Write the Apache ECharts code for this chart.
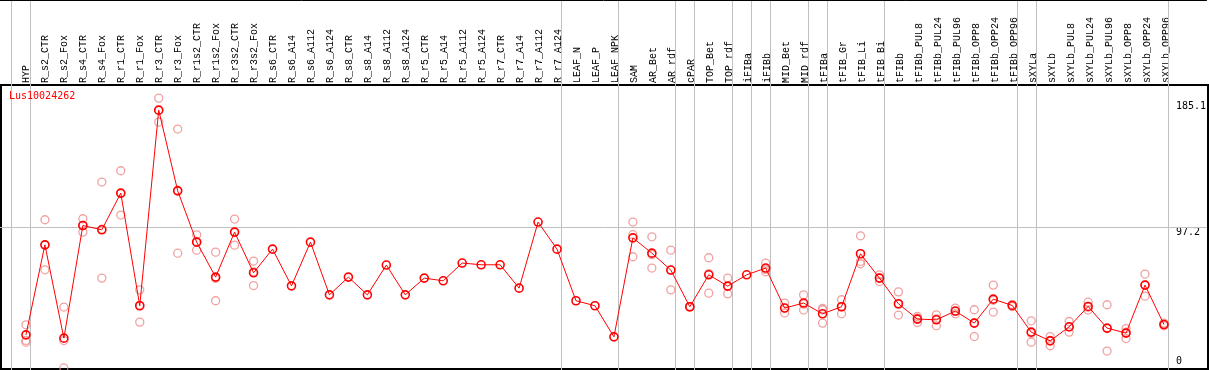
<!DOCTYPE html>
<html>
<head>
<meta charset="utf-8">
<script src="https://cdn.jsdelivr.net/npm/echarts@6/dist/echarts.min.js"></script>
<style>
html,body{margin:0;padding:0;background:#fff;}
#chart{width:1209px;height:370px;}
</style>
</head>
<body>
<div id="chart"></div>
<script>
const categories = ["HYP","R_s2_CTR","R_s2_Fox","R_s4_CTR","R_s4_Fox","R_r1_CTR","R_r1_Fox","R_r3_CTR","R_r3_Fox","R_r1s2_CTR","R_r1s2_Fox","R_r3s2_CTR","R_r3s2_Fox","R_s6_CTR","R_s6_A14","R_s6_A112","R_s6_A124","R_s8_CTR","R_s8_A14","R_s8_A112","R_s8_A124","R_r5_CTR","R_r5_A14","R_r5_A112","R_r5_A124","R_r7_CTR","R_r7_A14","R_r7_A112","R_r7_A124","LEAF_N","LEAF_P","LEAF_NPK","SAM","AR_Bet","AR_rdf","cPAR","TOP_Bet","TOP_rdf","iFIBa","iFIBb","MID_Bet","MID_rdf","tFIBa","tFIB_Gr","tFIB_Li","tFIB_Bi","tFIBb","tFIBb_PUL8","tFIBb_PUL24","tFIBb_PUL96","tFIBb_OPP8","tFIBb_OPP24","tFIBb_OPP96","sXYLa","sXYLb","sXYLb_PUL8","sXYLb_PUL24","sXYLb_PUL96","sXYLb_OPP8","sXYLb_OPP24","sXYLb_OPP96"];

const meanValues = [22.3,85.1,20.0,98.6,95.6,121.2,42.6,179.1,122.8,87.0,62.6,94.0,65.6,82.1,56.5,87.0,50.2,62.6,50.2,71.0,50.2,61.9,60.0,72.4,71.2,71.2,54.9,101.0,82.1,46.1,42.6,20.9,90.0,79.3,67.5,41.9,64.2,56.3,64.2,68.9,41.0,44.5,37.0,41.9,78.9,61.9,44.0,33.3,32.8,38.9,30.5,47.2,42.8,24.2,18.1,27.9,42.1,27.0,23.5,57.0,29.5];

const rep1 = [29.3,102.6,41.7,103.3,128.9,136.8,53.7,187.5,165.9,92.1,80.0,103.1,73.8,null,null,null,null,null,null,null,null,null,null,null,null,null,null,null,null,null,null,null,101.0,90.7,81.4,42.2,76.1,61.9,null,72.4,44.5,50.2,39.8,46.8,91.4,64.2,52.3,35.1,36.3,41.0,39.8,57.0,43.5,32.1,21.1,31.6,45.1,43.3,26.7,64.7,30.5];
const rep2 = [18.4,67.7,-0.8,94.0,61.9,105.9,31.2,170.8,79.3,81.4,46.1,84.9,56.7,null,null,null,null,null,null,null,null,null,null,null,null,null,null,null,null,null,null,null,76.8,68.9,53.7,41.6,51.4,50.9,null,66.3,37.5,39.6,30.5,37.0,73.5,59.5,36.1,30.9,28.6,37.0,21.1,38.2,42.0,17.2,14.7,24.2,39.6,11.0,19.7,49.3,28.6];
const rep3 = [17.2,85.0,18.3,98.5,96.0,120.9,42.9,179.0,123.2,87.5,61.7,94.0,66.3,null,null,null,null,null,null,null,null,null,null,null,null,null,null,null,null,null,null,null,92.2,78.3,67.4,41.9,65.0,56.0,null,68.0,41.0,43.7,40.7,41.9,71.9,62.0,43.6,33.9,33.5,38.7,30.6,46.4,42.8,23.3,18.5,27.9,41.6,26.7,24.1,57.0,29.5];

const yTickLabels = [0, 97.2, 185.1];
const refLineValue = 97.2;
const groupEnds = [-1, 0, 28, 31, 34, 35, 37, 38, 39, 41, 42, 45, 52, 53, 60];
const geneName = "Lus10024262";

// layout constants
const W = 1209, H = 370;
const COL_W = 19, COL0_X = 26;
const K = 1.433, ZERO_Y = 366.8;
const yMin = -(H - ZERO_Y) / K, yMax = ZERO_Y / K;
const xMin = -COL0_X / COL_W, xMax = (W - COL0_X) / COL_W;
const MONO = "DejaVu Sans Mono";
const LABEL_FONT = "Liberation Mono";

const meanData = meanValues.map((v, i) => [i, v]);
const repData = [];
[rep1, rep2, rep3].forEach(r => r.forEach((v, i) => { if (v !== null) repData.push([i, v]); }));

const vLines = groupEnds.map(g => ({ xAxis: g + 4.5 / COL_W }));

const chart = echarts.init(document.getElementById('chart'), null, { renderer: 'canvas' });
chart.setOption({
  animation: false,
  backgroundColor: '#fff',
  title: {
    text: geneName, left: 9, top: 91, padding: 0,
    textStyle: { color: '#ff0000', fontSize: 10, fontWeight: 'normal', fontFamily: MONO }
  },
  grid: [
    { left: 0, right: 0, top: 0, bottom: 0 },
    { left: COL0_X - COL_W / 2, width: COL_W * categories.length, top: 85, bottom: 1 },
    { left: 1, right: 1, top: 85, bottom: 1, show: true, borderColor: '#000', borderWidth: 2, backgroundColor: 'transparent' }
  ],
  xAxis: [
    { type: 'value', gridIndex: 0, min: xMin, max: xMax, show: false },
    { type: 'category', gridIndex: 1, position: 'top', data: categories, boundaryGap: true,
      axisLine: { show: false }, axisTick: { show: false }, splitLine: { show: false },
      axisLabel: { rotate: 90, interval: 0, margin: 2, fontSize: 10, fontFamily: LABEL_FONT, color: '#000', hideOverlap: false } },
    { type: 'value', gridIndex: 2, show: false }
  ],
  yAxis: [
    { type: 'value', gridIndex: 0, min: yMin, max: yMax, position: 'right', offset: -31,
      axisLine: { show: false }, axisTick: { show: false }, splitLine: { show: false },
      axisLabel: { customValues: [yTickLabels[1], yTickLabels[2]], margin: 0, align: 'left', verticalAlign: 'top',
        fontSize: 10, fontFamily: MONO, color: '#000', formatter: v => String(v) } },
    { type: 'value', gridIndex: 0, min: yMin, max: yMax, position: 'right', offset: -31,
      axisLine: { show: false }, axisTick: { show: false }, splitLine: { show: false },
      axisLabel: { customValues: [yTickLabels[0]], margin: 0, align: 'left', verticalAlign: 'bottom',
        fontSize: 10, fontFamily: MONO, color: '#000', formatter: v => String(v) } },
    { type: 'value', gridIndex: 1, show: false },
    { type: 'value', gridIndex: 2, show: false }
  ],
  series: [
    {
      type: 'scatter', xAxisIndex: 0, yAxisIndex: 0, z: 3,
      data: repData, symbol: 'circle', symbolSize: 8,
      itemStyle: { color: 'rgba(255,255,255,0)', borderColor: '#ec8a8a', borderWidth: 1.3 },
      markLine: {
        silent: true, symbol: ['none', 'none'], label: { show: false }, z: 1,
        lineStyle: { color: '#c0c0c0', width: 1, type: 'solid' },
        data: vLines.concat([{ yAxis: refLineValue }])
      }
    },
    {
      type: 'line', xAxisIndex: 0, yAxisIndex: 0, z: 4,
      data: meanData, symbol: 'circle', symbolSize: 8, showAllSymbol: true,
      lineStyle: { color: '#ff0000', width: 1 },
      itemStyle: { color: 'rgba(255,255,255,0)', borderColor: '#ff0000', borderWidth: 1.6 },
      markLine: {
        silent: true, symbol: ['none', 'none'], label: { show: false },
        lineStyle: { color: '#000', width: 1, type: 'solid' },
        data: [{ yAxis: yMax - 0.5 / K }]
      }
    }
  ]
});
</script>
</body>
</html>
